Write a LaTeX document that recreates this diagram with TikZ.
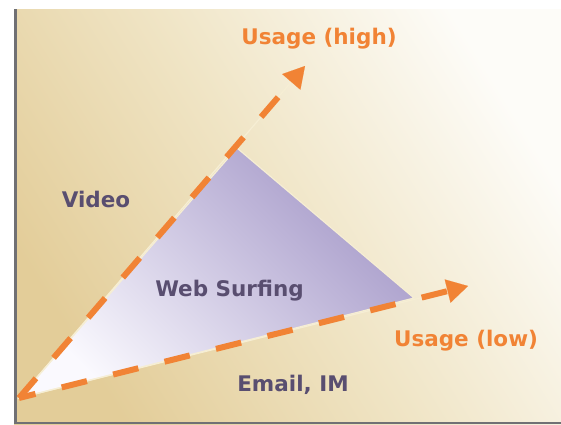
\documentclass[tikz,border=0pt]{standalone}
\usepackage{fontspec}
\setmainfont{DejaVu Sans}
\usetikzlibrary{arrows.meta}
\definecolor{orng}{RGB}{241,131,53}
\definecolor{txt}{RGB}{89,78,112}
\definecolor{tanbg}{RGB}{227,205,153}
\definecolor{midbg}{RGB}{240,229,198}
\definecolor{creambg}{RGB}{253,252,248}
\definecolor{lav}{RGB}{166,154,201}
\definecolor{lavlight}{RGB}{250,249,254}
\definecolor{edge}{RGB}{246,238,212}
\definecolor{framec}{RGB}{112,112,116}
\begin{document}
\begin{tikzpicture}[x=1pt,y=-1pt,
  lbl/.style={font=\bfseries\fontsize{21.5}{24}\selectfont, text=txt, anchor=base, inner sep=0pt},
  ulbl/.style={lbl, text=orng},
  guide/.style={draw=edge, line width=1.2pt},
  dashline/.style={draw=orng, line width=6pt, line cap=butt, dash pattern=on 26pt off 27pt,
    -{Triangle[length=21pt,width=24pt,line width=0.1pt]}}]
\useasboundingbox (0,0) rectangle (561,424);
\fill[white] (0,0) rectangle (561,424);
\shade[top color=creambg, bottom color=tanbg, middle color=midbg, shading angle=-58] (14,9) rectangle (561,424);
\draw[framec, line width=3pt] (15.5,9) -- (15.5,424);
\draw[framec, line width=2.2pt] (14,422.9) -- (561,422.9);
% named points
\coordinate (O) at (19,398);
\coordinate (T) at (237,148);
\coordinate (R) at (414,298);
\coordinate (H) at (305,66);
\coordinate (L) at (468,286);
% triangle
\shade[top color=lav, bottom color=lavlight, shading angle=-45] (O) -- (T) -- (R) -- cycle;
\draw[guide] (O) -- (T) -- (R) -- cycle;
\draw[guide] (O) -- (H);
\draw[guide] (O) -- (L);
% dashed arrows
\draw[dashline, dash phase=0pt] (O) -- (H);
\draw[dashline, dash phase=9pt] (O) -- (L);
% labels
\node[ulbl] (uh) at (319,44) {Usage (high)};
\node[ulbl] (ul) at (466,346.5) {Usage (low)};
\node[lbl] (video) at (96,207) {Video};
\node[lbl] (web) at (229.5,296) {Web Surfing};
\node[lbl] (email) at (293,391.5) {Email, IM};
\end{tikzpicture}
\end{document}
